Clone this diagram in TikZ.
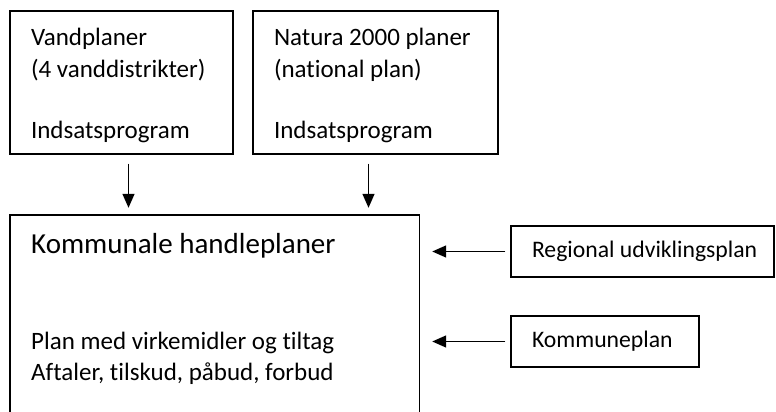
\documentclass[tikz,border=0pt]{standalone}
\usepackage{fontspec}
\setmainfont{Carlito}[Ligatures=NoCommon]
\usetikzlibrary{arrows.meta}

\begin{document}
\begin{tikzpicture}[x=1pt, y=-1pt,
  plan/.style={shape=rectangle, draw, line width=1.4pt, inner xsep=21pt, inner ysep=0pt, align=flush left},
  line/.style={anchor=base west, inner sep=0pt},
  arr/.style={line width=1.4pt, -{Triangle[length=14pt, width=12pt]}},
  every node/.style={font=\fontsize{25}{32}\selectfont}]
\useasboundingbox (0,0) rectangle (776,412);
\node[plan, text width=181pt, text height=24pt, minimum height=143pt] (vand) at (121.5,82.5) {Vandplaner\\(4 vanddistrikter)\\[29pt]Indsatsprogram};
\node[plan, text width=203pt, text height=24pt, minimum height=143pt] (natura) at (375.5,82.5) {Natura 2000 planer\\(national plan)\\[29pt]Indsatsprogram};
% kommunal ramme, aaben forneden
\node[minimum width=409pt, minimum height=200pt, inner sep=0pt] (komm) at (214.5,315) {};
\draw[line width=1.4pt] (komm.south west) -- (komm.north west) -- (komm.north east) -- (komm.south east);
\node[line, font=\fontsize{29}{35}\selectfont] (kommtitle) at (31,253) {Kommunale handleplaner};
\node[line] (kommplan) at (31,349) {Plan med virkemidler og tiltag};
\node[line] (kommaft) at (31,380) {Aftaler, tilskud, påbud, forbud};
\node[plan, text width=221pt, minimum height=51pt, font=\fontsize{23.7}{29}\selectfont] (region) at (642.5,251.5) {\mbox{Regional udviklingsplan}};
\node[plan, text width=146pt, minimum height=51pt, font=\fontsize{23.7}{29}\selectfont] (kplan) at (605,341.5) {Kommuneplan};
\path[arr, shorten <=9pt, shorten >=7pt]
([xshift=7pt]vand.south) edge ([xshift=7pt]vand.south |- komm.north)
([xshift=-7pt]natura.south) edge ([xshift=-7pt]natura.south |- komm.north);
\path[arr, shorten <=5pt, shorten >=13pt]
(region.west) edge (region.west -| komm.east)
(kplan.west) edge (kplan.west -| komm.east);
\end{tikzpicture}
\end{document}
